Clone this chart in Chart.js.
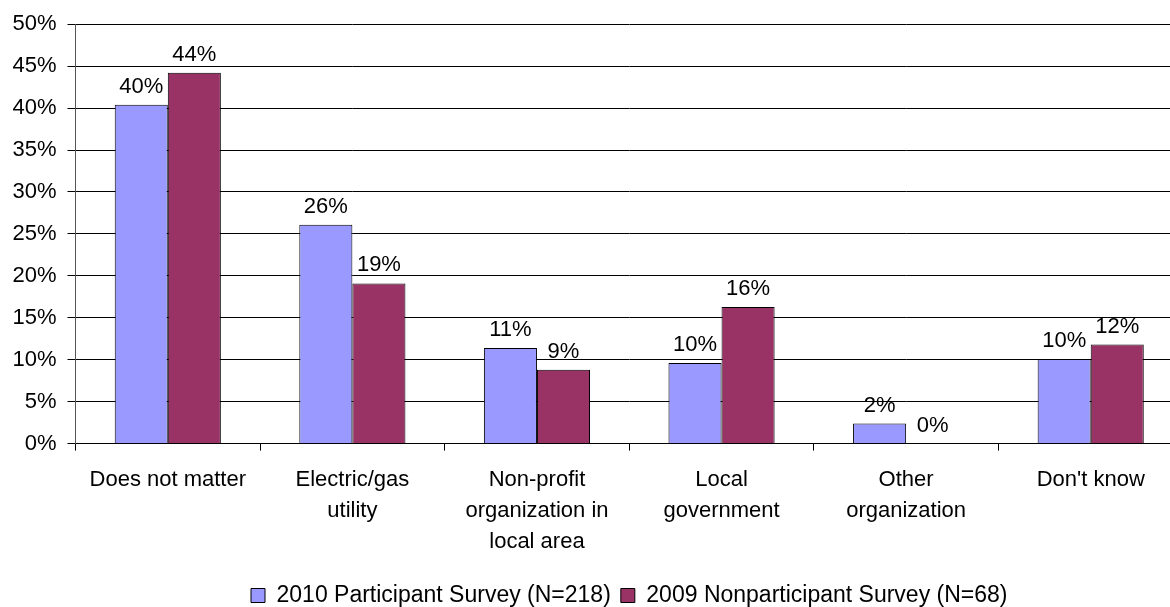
<!DOCTYPE html>
<html>
<head>
<meta charset="utf-8">
<script src="https://cdn.jsdelivr.net/npm/chart.js@4/dist/chart.umd.min.js"></script>
<style>
    html, body { margin: 0; padding: 0; background: #fff; overflow: hidden; }
    #wrap {
        position: relative;
        width: 1183px;
        height: 617px;
    }
</style>
</head>
<body>
<div id="wrap"><canvas id="chart"></canvas></div>
<script>
const categories = [
    'Does not matter',
    ['Electric/gas', 'utility'],
    ['Non-profit', 'organization in', 'local area'],
    ['Local', 'government'],
    ['Other', 'organization'],
    "Don't know"
];
const participant2010 = [40.4, 26.1, 11.4, 9.6, 2.4, 10.1];
const nonparticipant2009 = [44.2, 19.1, 8.8, 16.3, 0, 11.8];
const seriesNames = ['2010 Participant Survey (N=218)', '2009 Nonparticipant Survey (N=68)'];
const yTicks = [0, 5, 10, 15, 20, 25, 30, 35, 40, 45, 50];

const FONT = '"Liberation Sans", Arial, sans-serif';

// rounded % above every bar
const barLabels = {
    id: 'barLabels',
    afterDatasetsDraw(chart) {
        const ctx = chart.ctx;
        ctx.save();
        ctx.font = '22px ' + FONT;
        ctx.fillStyle = '#000';
        ctx.textAlign = 'center';
        ctx.textBaseline = 'middle';
        chart.data.datasets.forEach((ds, i) => {
            chart.getDatasetMeta(i).data.forEach((bar, j) => {
                ctx.fillText(Math.round(ds.data[j]) + '%', bar.x, bar.y - 18);
            });
        });
        ctx.restore();
    }
};

// centre the legend under the plot area instead of the canvas
const legendShift = {
    id: 'legendShift',
    afterLayout(chart) {
        const area = chart.chartArea;
        const dx = (area.left + area.right) / 2 - chart.width / 2;
        chart.legend.left += dx;
        chart.legend.right += dx;
    }
};

new Chart(document.getElementById('chart'), {
    type: 'bar',
    data: {
        labels: categories,
        datasets: [
            {
                label: seriesNames[0],
                data: participant2010,
                backgroundColor: '#9999FF',
                borderColor: '#000',
                borderWidth: 1,
                categoryPercentage: 0.575,
                barPercentage: 1
            },
            {
                label: seriesNames[1],
                data: nonparticipant2009,
                backgroundColor: '#993366',
                borderColor: '#000',
                borderWidth: 1,
                categoryPercentage: 0.575,
                barPercentage: 1
            }
        ]
    },
    options: {
        responsive: true,
        maintainAspectRatio: false,
        animation: false,
        layout: { padding: { top: 23, left: 0, right: 0, bottom: 0 } },
        plugins: {
            tooltip: { enabled: false },
            legend: {
                position: 'bottom',
                labels: {
                    color: '#000',
                    font: { family: FONT, size: 23 },
                    boxWidth: 14,
                    boxHeight: 14,
                    padding: 10
                }
            }
        },
        scales: {
            x: {
                afterFit(scale) { scale.height = 130.4; },
                grid: {
                    offset: true,
                    drawOnChartArea: false,
                    drawTicks: true,
                    tickLength: 7,
                    color: '#000'
                },
                border: { color: '#000', width: 1 },
                ticks: {
                    color: '#000',
                    padding: 14,
                    maxRotation: 0,
                    autoSkip: false,
                    font: { family: FONT, size: 22, lineHeight: 1.4 }
                }
            },
            y: {
                min: 0,
                max: 50,
                afterFit(scale) { scale.width = 75.5; },
                afterBuildTicks(scale) {
                    scale.ticks = yTicks.map(v => ({ value: v }));
                },
                grid: {
                    color: '#000',
                    lineWidth: 1,
                    drawTicks: true,
                    tickLength: 8
                },
                border: { color: '#555', width: 1 },
                ticks: {
                    color: '#000',
                    padding: 11,
                    font: { family: FONT, size: 22 },
                    callback: v => v + '%'
                }
            }
        }
    },
    plugins: [barLabels, legendShift]
});
</script>
</body>
</html>
